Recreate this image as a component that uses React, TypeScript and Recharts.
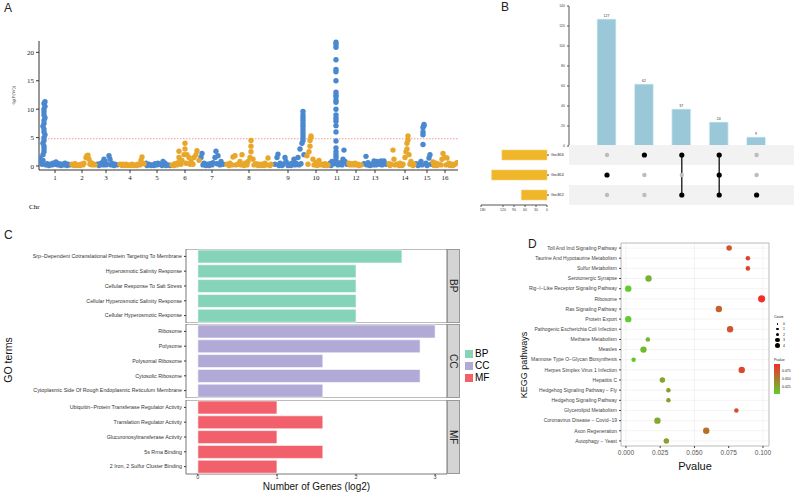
import React from "react";
import {
  ScatterChart, Scatter, BarChart, Bar, XAxis, YAxis, ZAxis, ReferenceLine, ReferenceArea,
  CartesianGrid, Cell, LabelList,
} from "recharts";

// ---- Panel A: manhattan ----
const chrNames = ["1", "2", "3", "4", "5", "6", "7", "8", "9", "10", "11", "12", "13", "14", "15", "16"];
const chrCenters = [16, 43, 67, 91, 118, 146, 173, 210, 249, 277, 298, 317, 336, 366, 388, 406];
// [chr, position, -log p]
const snps: [number, number, number][] = [
  [1,1,1.4],[1,2,0.8],[1,3,0.3],[1,4,1],[1,4,2],[1,5,2.5],[1,5,3],[1,5,3.5],[1,4,4],[1,5,4.5],[1,5,5],[1,6,5.5],[1,5,6],[1,5,6.5],[1,4,7],[1,5,7.5],[1,5,8],[1,6,8.5],[1,5,9],[1,5,9.5],[1,5,10],[1,6,10.5],[1,5,11],[1,6,11.3],
  [1,7,0.2],[1,8,0.4],[1,10,0.1],[1,11,0.3],[1,13,0.2],[1,14,0.5],[1,16,0.3],[1,17,0.7],[1,19,0.2],[1,20,0.4],[1,22,0.1],[1,23,0.3],[1,25,0.2],[1,26,0.5],[1,28,0.1],[1,29,0.3],[1,31,0.2],
  [2,33,0.3],[2,35,0.1],[2,36,0.4],[2,38,0.1],[2,39,0.2],[2,41,0.1],[2,42,0.3],[2,44,0.2],[2,45,0.5],[2,47,1.5],[2,48,1.8],[2,49,1.9],[2,50,1.2],[2,51,0.3],[2,52,0.6],[2,53,0.2],[2,54,0.4],[2,56,0.2],
  [3,58,0.3],[3,60,0.1],[3,61,0.4],[3,63,0.6],[3,64,0.2],[3,65,1.2],[3,66,0.8],[3,67,0.2],[3,68,0.3],[3,70,1.8],[3,71,1.2],[3,72,0.2],[3,73,0.5],[3,75,0.1],[3,76,0.3],[3,78,0.2],
  [4,81,0.3],[4,83,0.1],[4,84,0.3],[4,86,0.1],[4,87,0.3],[4,89,0.1],[4,90,0.2],[4,92,0.1],[4,93,0.3],[4,95,0.1],[4,96,0.2],[4,98,0.1],[4,99,0.3],[4,101,0.2],[4,102,1.0],[4,103,1.6],[4,105,0.4],
  [5,107,0.5],[5,108,0.1],[5,110,0.3],[5,112,0.1],[5,113,0.2],[5,115,0.1],[5,116,0.4],[5,118,0.2],[5,119,0.5],[5,121,0.3],[5,123,0.1],[5,124,0.8],[5,126,0.5],[5,127,0.1],[5,129,0.2],[5,131,0.1],
  [6,133,0.2],[6,135,0.1],[6,136,0.4],[6,138,0.2],[6,139,0.6],[6,140,1.5],[6,140,2.6],[6,142,0.3],[6,143,1],[6,145,2],[6,146,3],[6,146,4],[6,147,0.5],[6,148,2],[6,150,1.5],[6,151,0.3],[6,152,0.8],[6,154,0.3],[6,155,1.5],[6,157,2],[6,158,2.7],[6,160,1],
  [7,162,1.5],[7,163,2.2],[7,164,0.2],[7,165,0.5],[7,167,0.1],[7,168,0.3],[7,170,0.1],[7,171,0.4],[7,173,0.2],[7,174,0.6],[7,176,1.5],[7,177,2.6],[7,178,0.4],[7,179,1.8],[7,181,0.2],[7,182,0.8],[7,184,0.3],
  [8,188,0.3],[8,190,0.1],[8,191,0.5],[8,193,0.2],[8,194,1.6],[8,196,1.8],[8,197,0.2],[8,199,0.3],[8,201,0.8],[8,202,0.2],[8,203,2],[8,205,0.1],[8,206,0.5],[8,208,0.2],[8,209,0.8],[8,211,1.5],[8,212,2.5],[8,212,3.5],[8,212,4.5],[8,214,1.2],[8,215,0.2],[8,217,0.4],[8,219,0.1],[8,220,0.3],[8,222,0.1],[8,223,0.3],[8,225,0.1],[8,226,0.5],[8,228,0.2],[8,229,1.4],[8,231,0.1],[8,232,0.3],
  [9,236,0.3],[9,238,1.5],[9,239,2.1],[9,240,0.1],[9,241,0.5],[9,243,0.1],[9,244,0.3],[9,246,1.5],[9,247,0.8],[9,249,0.1],[9,250,0.3],[9,252,0.1],[9,253,0.5],[9,255,1.2],[9,256,0.2],[9,257,0.5],[9,259,1.5],[9,260,0.2],[9,261,3],[9,262,0.4],[9,263,4],[9,264,4.5],[9,264,5],[9,264,5.5],[9,264,6],[9,264,6.5],[9,264,7],[9,264,7.5],[9,264,8],[9,264,8.5],[9,264,9],[9,264,9.6],[9,265,2],
  [10,268,1.8],[10,269,0.3],[10,270,2.5],[10,271,3.5],[10,271,4.5],[10,272,5],[10,272,5.3],[10,274,1.2],[10,275,0.2],[10,277,0.6],[10,278,0.1],[10,280,1.0],[10,281,0.2],[10,283,0.3],[10,285,0.1],[10,286,0.4],[10,288,0.1],[10,289,0.2],
  [11,291,0.5],[11,292,0.1],[11,293,0.8],[11,295,0.4],[11,297,1],[11,297,1.5],[11,297,2],[11,297,2.5],[11,297,3.2],[11,297,4.4],[11,297,6],[11,297,7.1],[11,297,7.9],[11,297,8.4],[11,297,9],[11,297,10],[11,297,11.2],[11,297,11.6],[11,297,12.2],[11,297,12.5],[11,297,13],[11,297,15],[11,297,16.6],[11,297,17],[11,297,18.7],[11,297,20.9],[11,297,21.4],[11,297,21.8],
  [11,299,0.2],[11,300,0.5],[11,302,0.6],[11,303,0.2],[11,304,1.2],[11,305,2.8],[11,306,0.8],[11,308,0.3],
  [12,310,0.5],[12,311,0.2],[12,313,0.4],[12,314,0.2],[12,316,0.5],[12,317,0.2],[12,319,0.3],[12,320,0.1],[12,322,0.2],
  [13,325,0.4],[13,327,1.7],[13,328,0.2],[13,329,0.6],[13,331,0.1],[13,332,0.3],[13,334,0.2],[13,335,0.9],[13,337,0.2],[13,338,0.8],[13,340,0.3],[13,342,0.9],[13,343,0.2],[13,345,0.9],[13,347,0.3],
  [14,350,0.4],[14,351,0.1],[14,352,0.3],[14,354,2.8],[14,355,1.2],[14,356,0.2],[14,358,0.3],[14,360,0.1],[14,361,0.5],[14,363,0.1],[14,364,0.3],[14,366,1.5],[14,367,2.5],[14,368,3],[14,368,4],[14,369,4.6],[14,369,5.3],[14,370,2],[14,371,0.3],[14,372,0.8],[14,374,0.1],[14,375,0.3],
  [15,377,0.4],[15,379,0.1],[15,380,0.3],[15,382,0.8],[15,383,0.2],[15,384,3.8],[15,384,5.5],[15,384,6],[15,384,6.8],[15,385,7.1],[15,385,7.3],[15,387,0.5],[15,388,0.1],[15,390,1.4],[15,391,2],[15,392,0.3],
  [16,394,0.7],[16,395,0.1],[16,397,0.5],[16,398,0.1],[16,400,0.3],[16,402,0.2],[16,403,1.2],[16,404,2.2],[16,406,1.5],[16,407,0.2],[16,408,1.4],[16,410,0.5],[16,411,0.1],[16,413,0.3],[16,414,0.1],[16,416,0.3],[16,418,0.6],
];
const threshold = 4.8;

// ---- Panel B: upset ----
const comboLabels = ["127", "62", "37", "24", "9"];
const comboSizes = [127, 62, 37, 24, 9];
const setNames = ["GscB16", "GscB14", "GscB12"];
const setSizes = [123, 151, 70];
// membership per combo: rows (0=GscB16,1=GscB14,2=GscB12)
const comboMembers = [[1], [0], [0, 2], [0, 1, 2], [2]];

// ---- Panel C: GO ----
const bpTerms = ["Srp\u2212Dependent Cotranslational Protein Targeting To Membrane", "Hyperosmotic Salinity Response", "Cellular Response To Salt Stress", "Cellular Hyperosmotic Salinity Response", "Cellular Hyperosmotic Response"];
const bpValues = [2.58, 2, 2, 2, 2];
const ccTerms = ["Ribosome", "Polysome", "Polysomal Ribosome", "Cytosolic Ribosome", "Cytoplasmic Side Of Rough Endoplasmic Reticulum Membrane"];
const ccValues = [3, 2.81, 1.58, 2.81, 1.58];
const mfTerms = ["Ubiquitin\u2212Protein Transferase Regulator Activity", "Translation Regulator Activity", "Glucuronosyltransferase Activity", "5s Rrna Binding", "2 Iron, 2 Sulfur Cluster Binding"];
const mfValues = [1, 1.58, 1, 1.58, 1];

// ---- Panel D: KEGG ----
const pathways = ["Toll And Imd Signaling Pathway", "Taurine And Hypotaurine Metabolism", "Sulfur Metabolism", "Serotonergic Synapse", "Rig\u2212I\u2212Like Receptor Signaling Pathway", "Ribosome", "Ras Signaling Pathway", "Protein Export", "Pathogenic Escherichia Coli Infection", "Methane Metabolism", "Measles", "Mannose Type O\u2212Glycan Biosynthesis", "Herpes Simplex Virus 1 Infection", "Hepatitis C", "Hedgehog Signaling Pathway \u2212 Fly", "Hedgehog Signaling Pathway", "Glycerolipid Metabolism", "Coronavirus Disease \u2212 Covid\u221219", "Axon Regeneration", "Autophagy \u2212 Yeast"];
const pvalues = [0.0753, 0.089, 0.089, 0.0165, 0.0017, 0.099, 0.0678, 0.0017, 0.076, 0.016, 0.0128, 0.0056, 0.0845, 0.0266, 0.031, 0.031, 0.0806, 0.023, 0.0586, 0.0295];
const counts = [2, 1, 1, 3, 3, 4, 3, 3, 3, 1, 3, 1, 3, 2, 1, 1, 1, 3, 3, 2];

const SANS = "'Liberation Sans', Arial, sans-serif";
const SERIF = "'Liberation Serif', 'Times New Roman', serif";

function pColor(p: number): string {
  const t = Math.max(0, Math.min(1, (p - 0.0017) / (0.099 - 0.0017)));
  const a = [95, 204, 46], b = [240, 48, 43];
  const c = a.map((v, i) => Math.round(v + (b[i] - v) * t));
  return `rgb(${c[0]},${c[1]},${c[2]})`;
}

// single-line left tick (no wrapping)
function makeTick(fontSize: number, fill: string) {
  return (p: any) => (
    <text x={p.x} y={p.y} dy={fontSize * 0.35} textAnchor="end" fontSize={fontSize} fontFamily={SANS} fill={fill}>
      {p.payload.value}
    </text>
  );
}

const blueDots = snps.filter((s) => s[0] % 2 === 1).map((s) => ({ x: s[1], y: s[2] }));
const orangeDots = snps.filter((s) => s[0] % 2 === 0).map((s) => ({ x: s[1], y: s[2] }));

function PanelA() {
  return (
    <ScatterChart width={470} height={220} margin={{ top: 41, right: 12, bottom: 20, left: 9 }}>
      <XAxis type="number" dataKey="x" domain={[0, 419]} ticks={chrCenters} allowDataOverflow
        tickFormatter={(v: number) => chrNames[chrCenters.indexOf(v)] ?? ""} stroke="#333"
        tick={{ fontSize: 7, fontFamily: SERIF, fill: "#222" }} tickSize={3} />
      <YAxis type="number" dataKey="y" domain={[-0.7, 22]} ticks={[0, 5, 10, 15, 20]} width={30} stroke="#333"
        tick={{ fontSize: 7, fontFamily: SERIF, fill: "#222" }} tickSize={3}
        label={{ value: "-lg(P(W))", angle: -90, position: "insideLeft", offset: 4, fontSize: 5, fontFamily: SERIF, fill: "#444" }} />
      <ReferenceLine y={threshold} stroke="#f08080" strokeDasharray="1.5 1.5" strokeWidth={0.8} />
      <Scatter data={blueDots} fill="#4a88cf" isAnimationActive={false} shape={(p: any) => <circle cx={p.cx} cy={p.cy} r={2.7} fill="#4a88cf" />} />
      <Scatter data={orangeDots} fill="#e8a72b" isAnimationActive={false} shape={(p: any) => <circle cx={p.cx} cy={p.cy} r={2.7} fill="#e8a72b" />} />
    </ScatterChart>
  );
}

const comboData = comboSizes.map((v, i) => ({ name: comboLabels[i], v }));
const setData = setNames.map((n, i) => ({ name: n, v: setSizes[i] }));
const matrixDots: { x: number; y: number; on: boolean }[] = [];
comboMembers.forEach((m, i) => [0, 1, 2].forEach((r) => matrixDots.push({ x: i, y: r, on: m.includes(r) })));

function PanelB() {
  return (
    <>
      <div style={{ position: "absolute", left: 480, top: 0 }}>
        <BarChart width={314} height={148} data={comboData} margin={{ top: 6, right: 0, bottom: 2, left: 71 }} barCategoryGap={9}>
          <XAxis dataKey="name" hide padding={{ left: 19, right: 19 }} />
          <YAxis domain={[0, 140]} ticks={[0, 20, 40, 60, 80, 100, 120, 140]} width={18} stroke="#555" tickSize={2}
            tick={{ fontSize: 3.5, fontFamily: SANS, fill: "#444" }} />
          <Bar dataKey="v" fill="#9ac8d8" stroke="#e4f2f7" strokeWidth={0.8} isAnimationActive={false}>
            <LabelList dataKey="v" position="top" fontSize={3.5} fill="#333" fontFamily={SANS} offset={2} />
          </Bar>
        </BarChart>
      </div>
      <div style={{ position: "absolute", left: 480, top: 145 }}>
        <ScatterChart width={314} height={60} margin={{ top: 0, right: 0, bottom: 0, left: 89 }}>
          <XAxis type="number" dataKey="x" domain={[-1.016, 5]} hide />
          <YAxis type="number" dataKey="y" domain={[-0.5, 2.5]} reversed hide />
          <ReferenceArea x1={-1.016} x2={5} y1={-0.5} y2={0.5} fill="#f2f2f2" fillOpacity={1} stroke="none" />
          <ReferenceArea x1={-1.016} x2={5} y1={1.5} y2={2.5} fill="#f2f2f2" fillOpacity={1} stroke="none" />
          {comboMembers.map((m, i) => m.length > 1 ? (
            <Scatter key={i} data={[{ x: i, y: Math.min(...m) }, { x: i, y: Math.max(...m) }]} line={{ stroke: "#111", strokeWidth: 1.3 }}
              shape={() => <g />} isAnimationActive={false} />
          ) : null)}
          <Scatter data={matrixDots} isAnimationActive={false}
            shape={(p: any) => <circle cx={p.cx} cy={p.cy} r={p.payload.on ? 2.6 : 2.2} fill={p.payload.on ? "#000" : "#bdbdbd"} />} />
        </ScatterChart>
      </div>
      <div style={{ position: "absolute", left: 480, top: 145 }}>
        <BarChart width={89} height={70} layout="vertical" data={setData} margin={{ top: 0, right: 0, bottom: 0, left: 1 }} barCategoryGap={5}>
          <XAxis type="number" domain={[0, 180]} ticks={[0, 30, 60, 90, 120, 150, 180]} reversed stroke="#555" tickSize={2}
            tick={{ fontSize: 3.5, fontFamily: SANS, fill: "#444" }} height={10} />
          <YAxis type="category" dataKey="name" orientation="right" width={22} axisLine={false} tickSize={2} stroke="#555"
            tick={{ fontSize: 3.6, fontFamily: SANS, fill: "#222", textAnchor: "start" }} />
          <Bar dataKey="v" fill="#f0b62a" stroke="#f6d47a" strokeWidth={0.6} isAnimationActive={false} />
        </BarChart>
      </div>
    </>
  );
}

function Facet({ terms, values, color, label, top, last }: { terms: string[]; values: number[]; color: string; label: string; top: number; last?: boolean }) {
  const data = terms.map((t, i) => ({ t, v: values[i] }));
  return (
    <div style={{ position: "absolute", left: 0, top }}>
      <BarChart width={447} height={last ? 82 : 74} layout="vertical" data={data} barCategoryGap={1}
        margin={{ top: 0, right: 0, bottom: 0, left: 0 }}>
        <XAxis type="number" dataKey="v" domain={[-0.15, 3.15]} ticks={[0, 1, 2, 3]} hide={!last} stroke="#333" tickSize={1.5} tickMargin={0} axisLine={false}
          tick={{ fontSize: 5.5, fontFamily: SANS, fill: "#444" }} height={8} />
        <YAxis type="category" dataKey="t" width={186} stroke="#333" tickSize={2} axisLine={false} interval={0}
          tick={makeTick(5.3, "#333")} />
        <ReferenceArea x1={-0.15} x2={3.15} fill="none" stroke="#555" strokeWidth={0.8} />
        <Bar dataKey="v" fill={color} stroke="#fff" strokeWidth={0.6} isAnimationActive={false} />
      </BarChart>
      <div style={{ position: "absolute", left: 447, top: 0, width: 13, height: 74, background: "#d4d4d4", boxSizing: "border-box",
        border: "0.8px solid #999", display: "flex", alignItems: "center", justifyContent: "center",
        writingMode: "vertical-rl", fontSize: 10, fontFamily: SANS, color: "#222" }}>{label}</div>
    </div>
  );
}

function PanelC() {
  return (
    <>
      <Facet terms={bpTerms} values={bpValues} color="#85d3b9" label="BP" top={249} />
      <Facet terms={ccTerms} values={ccValues} color="#b1a9d6" label="CC" top={324} />
      <Facet terms={mfTerms} values={mfValues} color="#f2616b" label="MF" top={400} last />
      <div style={{ position: "absolute", left: 198, top: 482, width: 237, textAlign: "center", fontSize: 10, fontFamily: SANS, color: "#111", lineHeight: "10px" }}>Number of Genes (log2)</div>
      <div style={{ position: "absolute", left: -22, top: 354, width: 60, textAlign: "center", transform: "rotate(-90deg)", fontSize: 10.5, fontFamily: SANS, color: "#111" }}>GO terms</div>
      {[["#85d3b9", "BP"], ["#b1a9d6", "CC"], ["#f2616b", "MF"]].map(([c, n], i) => (
        <div key={n} style={{ position: "absolute", left: 465, top: 348 + i * 12, display: "flex", alignItems: "center", fontSize: 10, fontFamily: SANS, lineHeight: "11px" }}>
          <span style={{ width: 8, height: 8, background: c, display: "inline-block", marginRight: 2 }} />{n}
        </div>
      ))}
    </>
  );
}

const keggData = pathways.map((n, i) => ({ n, p: pvalues[i], c: counts[i] }));

function PanelD() {
  return (
    <div style={{ position: "absolute", left: 520, top: 230 }}>
      <ScatterChart width={274} height={262} margin={{ top: 13, right: 25, bottom: 23, left: 0 }}>
        <CartesianGrid stroke="#ebebeb" strokeWidth={0.6} />
        <XAxis type="number" dataKey="p" domain={[-0.0036, 0.1044]} ticks={[0, 0.025, 0.05, 0.075, 0.1]} allowDataOverflow
          tickFormatter={(v: number) => v.toFixed(3)} stroke="#444" tickSize={2} axisLine={false}
          tick={{ fontSize: 6.5, fontFamily: SANS, fill: "#555" }} height={23}
          label={{ value: "Pvalue", position: "insideBottom", offset: -1, fontSize: 11, fontFamily: SANS, fill: "#111" }} />
        <YAxis type="category" dataKey="n" allowDuplicatedCategory={false} reversed width={101} stroke="#444" tickSize={2} axisLine={false} interval={0}
          tick={makeTick(5.0, "#444")} />
        <ZAxis type="number" dataKey="c" domain={[0, 4]} range={[8, 40]} />
        <ReferenceArea x1={-0.0036} x2={0.1044} fill="none" stroke="#b3b3b3" strokeWidth={0.8} />
        <Scatter data={keggData} isAnimationActive={false}>
          {keggData.map((d, i) => <Cell key={i} fill={pColor(d.p)} />)}
        </Scatter>
      </ScatterChart>
      <div style={{ position: "absolute", left: -46, top: 130, width: 100, textAlign: "center", transform: "rotate(-90deg)", fontSize: 9, fontFamily: SANS, color: "#111" }}>KEGG pathways</div>
      <div style={{ position: "absolute", left: 254, top: 85, fontSize: 3.5, fontFamily: SANS, color: "#222" }}>
        <div style={{ marginBottom: 2 }}>Count</div>
        {[0, 1, 2, 3, 4].map((c) => (
          <div key={c} style={{ display: "flex", alignItems: "center", height: 5.5 }}>
            <span style={{ width: 7, display: "inline-flex", justifyContent: "center" }}>
              <span style={{ width: 1.5 + c * 0.9, height: 1.5 + c * 0.9, borderRadius: "50%", background: "#000", display: "inline-block" }} />
            </span>
            <span style={{ marginLeft: 2 }}>{c}</span>
          </div>
        ))}
      </div>
      <div style={{ position: "absolute", left: 254, top: 128, fontSize: 3.5, fontFamily: SANS, color: "#222" }}>
        <div style={{ marginBottom: 2 }}>Pvalue</div>
        <div style={{ display: "flex" }}>
          <div style={{ width: 6, height: 30, background: "linear-gradient(#f0302b, #a77e2c, #5fcc2e)" }} />
          <div style={{ position: "relative", width: 12 }}>
            <span style={{ position: "absolute", top: 5, left: 2 }}>0.075</span>
            <span style={{ position: "absolute", top: 13, left: 2 }}>0.050</span>
            <span style={{ position: "absolute", top: 21, left: 2 }}>0.025</span>
          </div>
        </div>
      </div>
    </div>
  );
}

const lbl: React.CSSProperties = { position: "absolute", fontSize: 12, fontFamily: SANS, color: "#222" };

export default function App() {
  return (
    <div style={{ position: "absolute", left: 0, top: 0, width: 794, height: 492, background: "#fff", overflow: "hidden" }}>
      <div style={{ position: "absolute", left: 0, top: 0 }}><PanelA /></div>
      <div style={{ position: "absolute", left: 29, top: 203, fontSize: 7, fontFamily: SERIF }}>Chr</div>
      <PanelB />
      <PanelC />
      <PanelD />
      <div style={{ ...lbl, left: 4, top: 1 }}>A</div>
      <div style={{ ...lbl, left: 501, top: 0 }}>B</div>
      <div style={{ ...lbl, left: 4, top: 228 }}>C</div>
      <div style={{ ...lbl, left: 528, top: 237 }}>D</div>
    </div>
  );
}
